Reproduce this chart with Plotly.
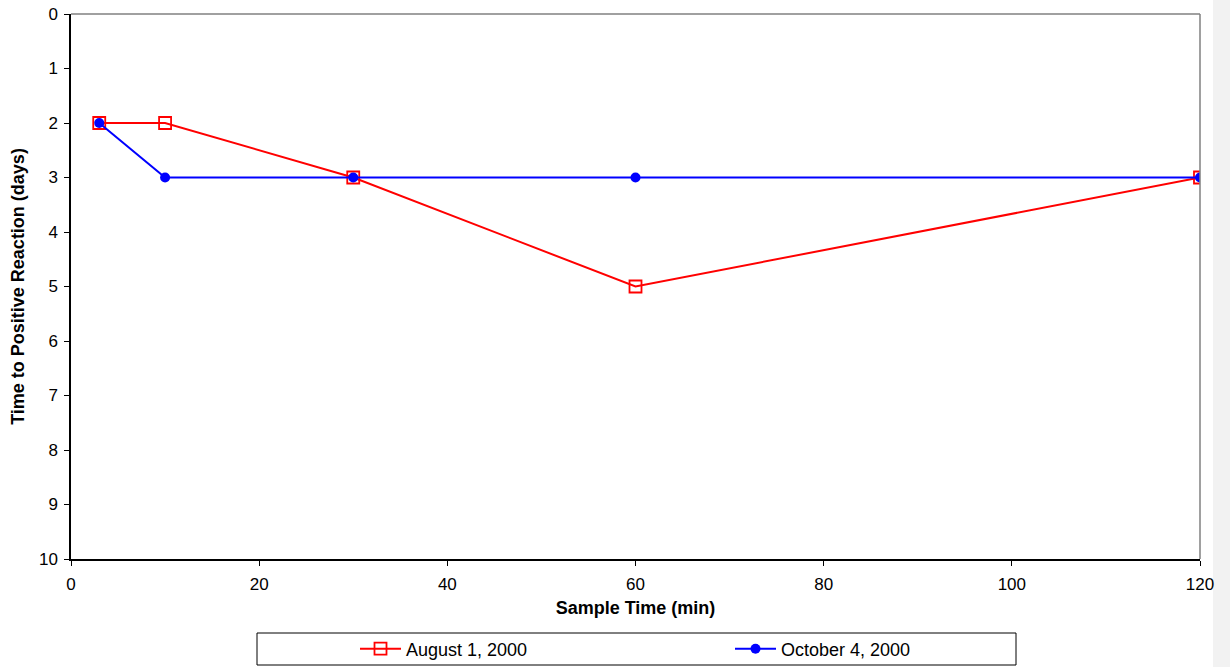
import plotly.graph_objects as go

sample_time = [3, 10, 30, 60, 120]
aug_days = [2, 2, 3, 5, 3]
oct_days = [2, 3, 3, 3, 3]
x_ticks = [0, 20, 40, 60, 80, 100, 120]
y_ticks = list(range(0, 11))

L, R, T, B = 71, 30, 14, 108
W, H = 1230, 667
pw, ph = W - L - R, H - T - B

def px(x):
    return (x - L) / pw

def py(y):
    return (H - B - y) / ph

fig = go.Figure()
fig.add_trace(go.Scatter(
    x=sample_time, y=aug_days, name="August 1, 2000", mode="lines+markers",
    line=dict(color="#ff0000", width=2),
    marker=dict(symbol="square-open", size=12, color="#ff0000", line=dict(width=1.8, color="#ff0000")),
))
fig.add_trace(go.Scatter(
    x=sample_time, y=oct_days, name="October 4, 2000", mode="lines+markers",
    line=dict(color="#0000ff", width=2),
    marker=dict(symbol="circle", size=10, color="#0000ff"),
))

font = "Liberation Sans, Arial, sans-serif"
fig.update_layout(
    width=W, height=H,
    margin=dict(l=L, r=R, t=T, b=B, autoexpand=False),
    paper_bgcolor="white", plot_bgcolor="white",
    font=dict(family=font, size=17, color="black"),
    xaxis=dict(range=[0, 120], tickvals=x_ticks, showgrid=False, zeroline=False,
               showline=True, linecolor="black", linewidth=1.5,
               ticks="outside", ticklen=5, tickcolor="black", ticklabelstandoff=4,
               tickfont=dict(size=17),
               title=dict(text="<b>Sample Time (min)</b>", font=dict(size=18), standoff=8)),
    yaxis=dict(range=[10, 0], tickvals=y_ticks, showgrid=False, zeroline=False,
               showline=True, linecolor="black", linewidth=1.5,
               ticks="outside", ticklen=5, tickcolor="black", ticklabelstandoff=3,
               tickfont=dict(size=17),
               title=dict(text="<b>Time to Positive Reaction (days)</b>", font=dict(size=18), standoff=10)),
    showlegend=True,
    legend=dict(orientation="h", xref="container", yref="container",
                x=355 / W, xanchor="left", y=1 - 649 / H, yanchor="middle",
                bgcolor="rgba(0,0,0,0)", borderwidth=0, itemwidth=41,
                entrywidth=319, entrywidthmode="pixels",
                font=dict(size=18)),
    shapes=[
        dict(type="line", xref="paper", yref="paper", x0=0, x1=1, y0=1, y1=1,
             line=dict(color="#808080", width=1.5)),
        dict(type="line", xref="paper", yref="paper", x0=1, x1=1, y0=0, y1=1,
             line=dict(color="#808080", width=1.5)),
        dict(type="rect", xref="paper", yref="paper", x0=px(257), x1=px(1016), y0=py(633), y1=py(665),
             line=dict(color="black", width=1), fillcolor="rgba(0,0,0,0)"),
        dict(type="rect", xref="paper", yref="paper", x0=px(1213), x1=px(1231), y0=py(-2), y1=py(669),
             line=dict(width=0), fillcolor="#f2f2f2", layer="below"),
    ],
)

fig.write_html("out.html")
